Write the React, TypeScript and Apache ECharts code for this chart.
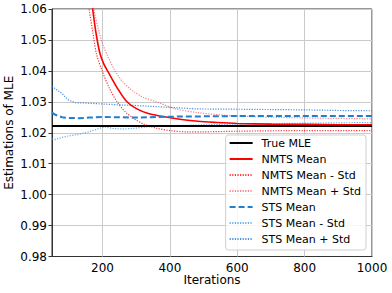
import React, { useEffect, useRef } from "react";
import * as echarts from "echarts";

const xTickValues = [200, 400, 600, 800, 1000];

const trueMleX = [50, 1000];
const trueMleY = [1.0222, 1.0222];

const nmtsMeanX = [100, 130, 150, 160, 170, 181, 192, 204, 217, 243, 271, 302, 336, 370, 415, 483, 540, 600, 700, 800, 900, 1000];
const nmtsMeanY = [1.15, 1.1, 1.078, 1.068, 1.0605, 1.052, 1.0458, 1.0422, 1.0396, 1.0346, 1.0302, 1.0277, 1.0262, 1.0254, 1.0246, 1.0237, 1.0233, 1.023, 1.0228, 1.0227, 1.0226, 1.0226];

const nmtsLowX = [100, 130, 150, 160, 172, 182, 199, 220, 242, 270, 296, 320, 360, 400, 450, 500, 600, 800, 1000];
const nmtsLowY = [1.12, 1.085, 1.068, 1.06, 1.052, 1.0455, 1.04, 1.0345, 1.0302, 1.0265, 1.0244, 1.0229, 1.0215, 1.0207, 1.0203, 1.0203, 1.0205, 1.0207, 1.0207];

const nmtsHighX = [100, 140, 160, 174, 190, 201, 215, 237, 260, 290, 320, 360, 415, 483, 600, 800, 1000];
const nmtsHighY = [1.14, 1.09, 1.07, 1.06, 1.0525, 1.0485, 1.0448, 1.04, 1.0365, 1.0335, 1.0315, 1.03, 1.0278, 1.0265, 1.0254, 1.0248, 1.0245];

const stsMeanX = [50, 60, 80, 100, 130, 160, 200, 250, 300, 400, 500, 600, 800, 1000];
const stsMeanY = [1.0265, 1.0258, 1.025, 1.0248, 1.0247, 1.0249, 1.0251, 1.025, 1.0249, 1.0252, 1.0253, 1.0254, 1.0254, 1.0254];

const stsLowX = [50, 60, 80, 100, 130, 160, 190, 205, 230, 260, 300, 340, 400, 480, 600, 800, 1000];
const stsLowY = [1.018, 1.0178, 1.0185, 1.019, 1.0195, 1.0203, 1.0214, 1.0219, 1.0214, 1.0212, 1.0215, 1.022, 1.0223, 1.0225, 1.0228, 1.0231, 1.0233];

const stsHighX = [50, 65, 80, 90, 100, 120, 150, 200, 250, 300, 350, 400, 480, 600, 700, 800, 900, 1000];
const stsHighY = [1.035, 1.0338, 1.0327, 1.0315, 1.0305, 1.0297, 1.0296, 1.0293, 1.029, 1.0288, 1.0285, 1.0282, 1.0277, 1.0276, 1.0275, 1.0274, 1.0272, 1.0271];

const zip = (xs: number[], ys: number[]) => xs.map((x, i) => [x, ys[i]]);

const FONT = "DejaVu Sans";

export default function App() {
  const ref = useRef<HTMLDivElement>(null);
  useEffect(() => {
    document.body.style.margin = "0";
    const chart = echarts.init(ref.current!, undefined, { renderer: "svg" });
    const mk = (name: string, xs: number[], ys: number[], color: string, width: number, type: any, z: number, smooth: number | boolean, extra: any = {}) => ({
      name,
      type: "line",
      data: zip(xs, ys),
      showSymbol: false,
      symbol: "none",
      smooth,
      z,
      lineStyle: { color, width, type },
      itemStyle: { color },
      ...extra,
    });
    chart.setOption({
      animation: false,
      textStyle: { fontFamily: FONT },
      grid: {
        left: 52,
        right: 20,
        top: 9,
        bottom: 36.5,
        show: true,
        borderColor: "#333",
        borderWidth: 1,
        containLabel: false,
        outerBoundsMode: "none",
      },
      xAxis: {
        type: "value",
        min: 50,
        max: 1000,
        interval: 50,
        name: "Iterations",
        nameLocation: "middle",
        nameGap: 17,
        nameMoveOverlap: false,
        nameTextStyle: { fontSize: 12, color: "#000", fontFamily: FONT },
        axisLine: { show: true, lineStyle: { color: "#333", width: 1 } },
        axisTick: { show: false },
        axisLabel: {
          fontSize: 12,
          color: "#000",
          margin: 5,
          fontFamily: FONT,
          showMinLabel: false,
          formatter: (v: number) => (xTickValues.indexOf(Math.round(v)) >= 0 ? String(Math.round(v)) : ""),
        },
        splitLine: { show: false },
      },
      yAxis: {
        type: "value",
        min: 0.98,
        max: 1.06,
        interval: 0.01,
        name: "Estimations of MLE",
        nameLocation: "middle",
        nameGap: 37,
        nameMoveOverlap: false,
        nameTextStyle: { fontSize: 12, color: "#000", fontFamily: FONT },
        axisLine: { show: true, lineStyle: { color: "#333", width: 1 } },
        axisTick: { show: true, inside: false, length: 3.5, lineStyle: { color: "#333" } },
        axisLabel: { fontSize: 12, color: "#000", margin: 5, fontFamily: FONT, formatter: (v: number) => v.toFixed(2) },
        splitLine: { show: true, lineStyle: { color: "#cacaca", width: 1 } },
      },
      legend: {
        orient: "vertical",
        right: 26,
        top: 135,
        itemWidth: 23,
        itemHeight: 10,
        itemGap: 4,
        padding: [2, 5, 5, 3],
        backgroundColor: "rgba(255,255,255,0.85)",
        borderColor: "#d0d0d0",
        borderWidth: 1,
        borderRadius: 3,
        itemStyle: { color: "rgba(0,0,0,0)", borderWidth: 0, opacity: 0 },
        textStyle: { fontSize: 11, color: "#000", fontFamily: FONT, lineHeight: 12, padding: [0, 0, 0, 4] },
        data: ["True MLE", "NMTS Mean", "NMTS Mean - Std", "NMTS Mean + Std", "STS Mean", "STS Mean - Std", "STS Mean + Std"],
      },
      series: [
        mk("True MLE", trueMleX, trueMleY, "#000000", 2, "solid", 5, false, {
          markLine: {
            silent: true,
            symbol: ["none", "none"],
            label: { show: false },
            lineStyle: { color: "#cacaca", width: 1, type: "solid" },
            z: 1,
            data: xTickValues.map((v) => ({ xAxis: v })),
          },
        }),
        mk("NMTS Mean", nmtsMeanX, nmtsMeanY, "#ff0000", 1.6, "solid", 6, 0.3),
        mk("NMTS Mean - Std", nmtsLowX, nmtsLowY, "rgba(250,20,20,0.85)", 1.2, [1.2, 1.4], 4, 0.3),
        mk("NMTS Mean + Std", nmtsHighX, nmtsHighY, "rgba(250,60,70,0.65)", 1.2, [1.2, 1.4], 4, 0.3),
        mk("STS Mean", stsMeanX, stsMeanY, "#1f7fd0", 2, [6, 3], 7, false),
        mk("STS Mean - Std", stsLowX, stsLowY, "rgba(60,155,230,0.8)", 1.2, [1.2, 1.4], 4, false),
        mk("STS Mean + Std", stsHighX, stsHighY, "rgba(35,125,220,0.85)", 1.2, [1.2, 1.4], 4, false),
      ],
    });
    return () => chart.dispose();
  }, []);
  return <div ref={ref} style={{ width: 392, height: 293 }} />;
}
